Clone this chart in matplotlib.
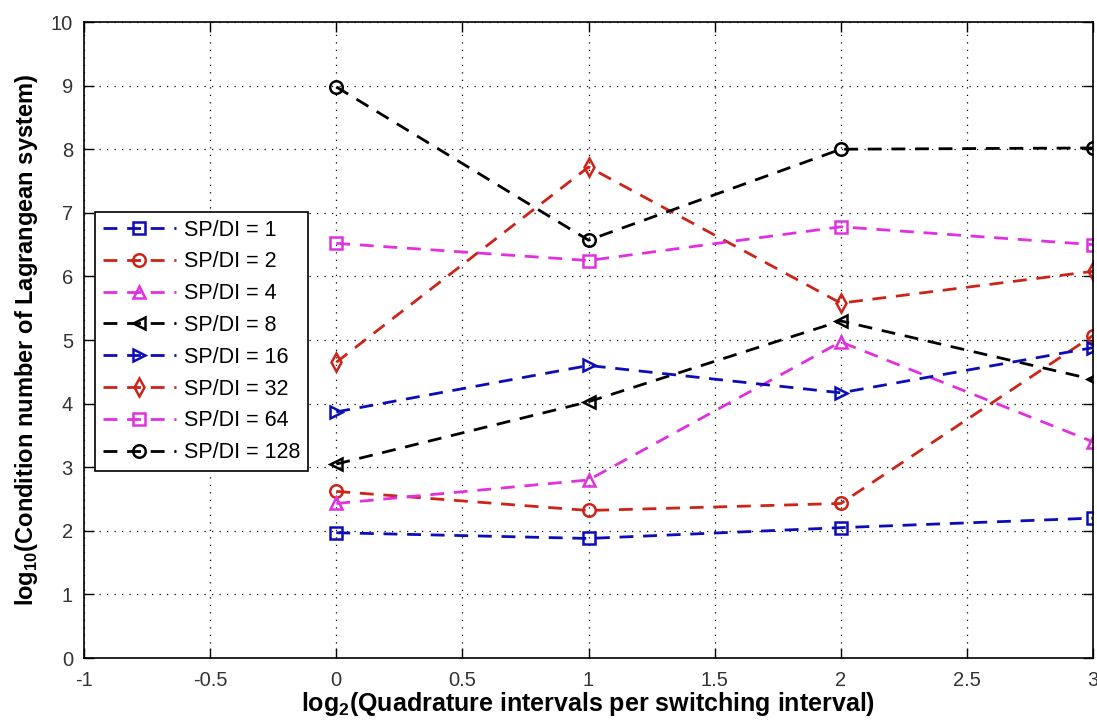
import numpy as np
import matplotlib
matplotlib.use("Agg")
import matplotlib.pyplot as plt

plt.rcParams['font.family'] = ['Liberation Sans', 'DejaVu Sans']
plt.rcParams['mathtext.fontset'] = 'custom'
plt.rcParams['mathtext.bf'] = 'Liberation Sans:bold'
plt.rcParams['mathtext.rm'] = 'Liberation Sans:bold'

# x: log2(quadrature intervals per switching interval)
x = [0, 1, 2, 3]

labels = ['SP/DI = 1', 'SP/DI = 2', 'SP/DI = 4', 'SP/DI = 8',
          'SP/DI = 16', 'SP/DI = 32', 'SP/DI = 64', 'SP/DI = 128']

sp1 = [1.97, 1.88, 2.05, 2.20]
sp2 = [2.62, 2.32, 2.43, 5.07]
sp4 = [2.43, 2.80, 4.97, 3.40]
sp8 = [3.05, 4.03, 5.30, 4.38]
sp16 = [3.87, 4.60, 4.17, 4.88]
sp32 = [4.65, 7.72, 5.58, 6.08]
sp64 = [6.52, 6.25, 6.78, 6.50]
sp128 = [8.98, 6.57, 8.00, 8.02]

series = [sp1, sp2, sp4, sp8, sp16, sp32, sp64, sp128]
colors = ['#0c0cb8', '#cc2418', '#e030e0', 'black',
          '#0c0cb8', '#cc2418', '#e030e0', 'black']
markers = ['s', 'o', '^', '<', '>', 'd', 's', 'o']

fig = plt.figure(figsize=(10.97, 7.22), dpi=100)
ax = fig.add_axes([0.0766, 0.0886, 0.9198, 0.8809])

for y, c, m, lab in zip(series, colors, markers, labels):
    ax.plot(x, y, linestyle='--', dashes=(5, 3.5), color=c, marker=m,
            markersize=9, markerfacecolor='none', markeredgecolor=c,
            markeredgewidth=1.8, linewidth=2.0, label=lab)

ax.set_xlim(-1, 3)
ax.set_ylim(0, 10)
ax.set_xticks(np.arange(-1, 3.01, 0.5))
ax.set_xticklabels(['-1', '-0.5', '0', '0.5', '1', '1.5', '2', '2.5', '3'])
ax.set_yticks(range(0, 11))
ax.grid(True, linestyle=(0, (1, 5)), color='black', linewidth=0.9)
ax.tick_params(direction='in', length=7, top=True, right=True,
               labelsize=14.5, labelcolor='#333333', width=1)
ax.tick_params(axis='x', pad=9)
ax.tick_params(axis='y', pad=8)
for s in ax.spines.values():
    s.set_linewidth(1.2)

ax.set_xlabel(r'log$_{\mathbf{2}}$(Quadrature intervals per switching interval)',
              fontsize=18, fontweight='bold', labelpad=0)
ax.set_ylabel(r'log$_{\mathbf{10}}$(Condition number of Lagrangean system)',
              fontsize=17, fontweight='bold', labelpad=8)

leg = ax.legend(loc='upper left', bbox_to_anchor=(0.011, 0.701), fontsize=15.5,
                numpoints=1, handlelength=3.4, labelspacing=0.5,
                borderaxespad=0, fancybox=False, framealpha=1,
                edgecolor='black', borderpad=0.35, handletextpad=0.4)
leg.get_frame().set_linewidth(1.2)

fig.savefig('out.png', dpi=100)
